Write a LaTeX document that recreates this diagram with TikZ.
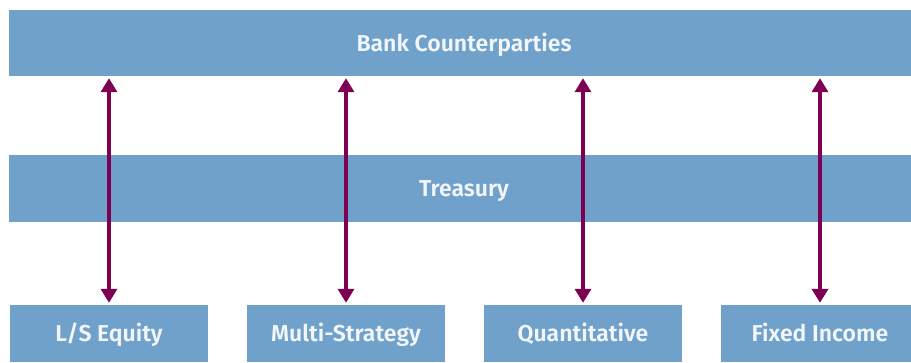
\documentclass[tikz,border=0pt]{standalone}
\usepackage{fontspec}
\setmainfont{Fira Sans}
\newfontfamily\boxfont{Fira Sans SemiBold}
\usetikzlibrary{arrows.meta}
\definecolor{barblue}{HTML}{6FA1CA}
\definecolor{linkpurple}{HTML}{7D0052}
\definecolor{boxtext}{HTML}{F2F5F9}
\tikzset{
  bar/.style={rectangle, fill=barblue, draw=none, text=boxtext, inner sep=0pt,
    text height=16.5pt, text depth=0pt,
    font=\boxfont\fontsize{23}{27}\selectfont},
  link/.style={draw=linkpurple, line width=3.4pt,
    {Triangle[width=16pt,length=14pt]}-{Triangle[width=16pt,length=14pt]},
    shorten <=2pt, shorten >=2pt}
}
\begin{document}
\begin{tikzpicture}[x=1pt, y=-1pt]
             \useasboundingbox (0,0) rectangle (911,362);

             \node[bar, minimum width=910pt, minimum height=66pt] (bank) at (464, 43) {Bank Counterparties};
             \node[bar, minimum width=910pt, minimum height=67pt] (treasury) at (464, 188.5) {Treasury};

             \node[bar, minimum width=198pt, minimum height=57pt] (ls) at (109, 333.5) {L/S Equity};
             \node[bar, minimum width=198pt, minimum height=57pt] (multi) at (346, 333.5) {Multi-Strategy};
             \node[bar, minimum width=198pt, minimum height=57pt] (quant) at (583, 333.5) {Quantitative};
             \node[bar, minimum width=198pt, minimum height=57pt] (fixed) at (820, 333.5) {Fixed Income};

             \foreach \strat in {ls, multi, quant, fixed}
               \draw[link] (\strat.north) -- (\strat.north |- bank.south);

\end{tikzpicture}
\end{document}
